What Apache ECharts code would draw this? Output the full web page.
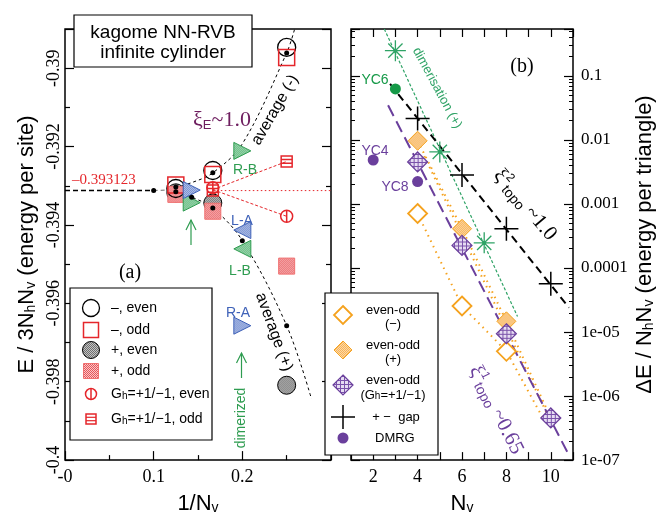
<!DOCTYPE html>
<html><head><meta charset="utf-8">
<script src="https://cdn.jsdelivr.net/npm/echarts@6/dist/echarts.min.js"></script>
<style>html,body{margin:0;padding:0;background:#fff}#c{width:661px;height:520px}</style>
</head><body><div id="c"></div>
<script>
// ================= DATA : panel (a) =================
const xTickLabelsA = ['-0', '0.1', '0.2'];
const yTickLabelsA = ['-0.4', '-0.398', '-0.396', '-0.394', '-0.392', '-0.39'];
const minusEven = [[0.25, -0.38947], [0.1667, -0.39261], [0.125, -0.39307]];
const minusOdd  = [[0.25, -0.38973], [0.1667, -0.39271], [0.125, -0.39298]];
const plusEven  = [[0.25, -0.39809], [0.1667, -0.39344], [0.125, -0.39318]];
const plusOdd   = [[0.25, -0.39505], [0.1667, -0.39365], [0.125, -0.39322]];
const ghEven    = [[0.25, -0.39378], [0.1667, -0.39305]];
const ghOdd     = [[0.25, -0.39238], [0.1667, -0.39312]];
const triGreenRight = [[0.2, -0.39211], [0.1429, -0.39343]];
const triBlueLeft   = [[0.2, -0.39413]];
const triGreenLeft  = [[0.2, -0.39461]];
const triBlueRight  = [[0.2, -0.39657], [0.1429, -0.39311]];
const avgMinusDots = [[0.25, -0.38961], [0.1667, -0.39267], [0.125, -0.39303], [0.1, -0.393123]];
const avgPlusDots  = [[0.25, -0.39657], [0.2, -0.3944], [0.1667, -0.39357], [0.1429, -0.39329], [0.125, -0.39315]];
const avgMinusCurve = [[0.125, -0.39303], [0.1429, -0.39292], [0.1667, -0.39267], [0.2, -0.39193], [0.25, -0.38961], [0.259, -0.389]];
const avgPlusCurve  = [[0.125, -0.39315], [0.1429, -0.39329], [0.1667, -0.39357], [0.2, -0.3944], [0.25, -0.39657], [0.278, -0.39844]];
const extrapLine = [[0, -0.393123], [0.1, -0.393123]];
const greyLink   = [[0.1, -0.393123], [0.125, -0.3931]];
const redFlat    = [[0.1667, -0.393123], [0.3, -0.393123]];
const redUp      = [[0.1667, -0.3931], [0.25, -0.39238]];
const redDown    = [[0.1667, -0.3931], [0.25, -0.39378]];

// ================= DATA : panel (b) =================
const xTickLabelsB = ['2', '4', '6', '8', '10'];
const yTickLabelsB = ['1e-07', '1e-06', '1e-05', '0.0001', '0.001', '0.01', '0.1'];
const nvEven = [4, 6, 8, 10];
const eoPlus  = [0.0097, 4.1e-4, 1.47e-5, 4.55e-7];
const eoMinus = [7.1e-4, 2.55e-5, 5.0e-6];
const eoGh    = [0.00453, 2.25e-4, 9.4e-6, 4.55e-7];
const gapVals = [0.0217, 0.00283, 4.1e-4, 5.7e-5];
const nvDimer = [3, 5, 7];
const dimerVals = [0.248, 0.0065, 2.47e-4];
const dmrgPurple = [[2, 0.00486], [4, 0.00224]];
const dmrgGreen  = [[3, 0.0625]];
const fitBlack  = [[2.76, 0.075], [10.82, 2.4e-5]];
const fitPurple = [[2.67, 0.0347], [10.82, 1.19e-7]];
const fitGreen  = [[2.5, 0.54], [8.5, 1.75e-5]];
const fitOrangeB = [[4.3, 5.6e-3], [9.8, 5.6e-7]];
const fitOrangeC = [[4, 7.1e-4], [6, 2.55e-5], [8, 5.0e-6], [9.65, 4.5e-7]];

// ================= STYLE =================
const SANS = 'Liberation Sans, Arial, sans-serif';
const SERIF = 'Liberation Serif, Times New Roman, serif';
const RED = '#E5262B', GREEN = '#2E9C50', BLUE = '#3F62B8', ORANGE = '#F5A21E', PURPLE = '#6A3F9C', AGREEN = '#2FA366';
const zip = (xs, ys) => xs.map((x, i) => [x, ys[i]]).filter(p => p[1] !== undefined);

// texture fills (scale compensates the symbol's own scaling in scatter series)
function makePattern(size, bg, fg, kind, scale) {
  const cv = document.createElement('canvas');
  cv.width = size; cv.height = size;
  const c = cv.getContext('2d');
  c.fillStyle = bg; c.fillRect(0, 0, size, size);
  c.fillStyle = fg;
  if (kind === 'grid') { c.fillRect(0, 0, size, 1); c.fillRect(0, 0, 1, size); }
  else { c.fillRect(0, 0, 1, 1); c.fillRect(Math.floor(size / 2), Math.floor(size / 2), 1, 1); }
  const s = scale || 1;
  return { image: cv, repeat: 'repeat', scaleX: s, scaleY: s };
}
const P = {
  purple: ['#E6DCF2', '#7A52AA', 'grid', 4],
  grey:   ['#C4C4C4', '#6E6E6E', 'dots', 2],
  pink:   ['#F8C8C8', '#E8555A', 'dots', 2],
  green:  ['#C8EBD2', '#3FA862', 'dots', 2],
  blue:   ['#D3DDF4', '#5876C4', 'dots', 2],
  orange: ['#FDD9A6', '#F7B35A', 'dots', 2]
};
const pat = (k, symSize) => makePattern(P[k][3], P[k][0], P[k][1], P[k][2], symSize ? 2 / symSize : 1);

const nameRich = {
  s: { fontSize: 14, fontFamily: SANS, color: '#000', verticalAlign: 'bottom', lineHeight: 14, padding: [10, 0, 0, 0] }
};
const nameStyle = { fontSize: 22, fontFamily: SANS, color: '#000', rich: nameRich };

const chart = echarts.init(document.getElementById('c'));

const lineS = (data, color, width, type, xi, yi, extra) => Object.assign({
  type: 'line', data, xAxisIndex: xi, yAxisIndex: yi, symbol: 'none', silent: true,
  lineStyle: { color, width, type }, z: 2
}, extra || {});

const triR = 'path://M0,0 L10,5 L0,10 Z';
const triL = 'path://M10,0 L0,5 L10,10 Z';
const circV = 'path://M5,0 A5,5 0 1,1 5,10 A5,5 0 1,1 5,0 Z M5,0 L5,10';
const sqH = 'path://M0,0 L10,0 L10,10 L0,10 Z M0,3.3 L10,3.3 M0,6.7 L10,6.7';
const plusP = 'path://M0,5 L10,5 M5,0 L5,10';
const astP = 'path://M0,5 L10,5 M5,0 L5,10 M1.6,1.6 L8.4,8.4 M1.6,8.4 L8.4,1.6';

const sc = (data, symbol, size, fill, stroke, bw, xi, yi, z) => ({
  type: 'scatter', data, symbol, symbolSize: size, xAxisIndex: xi, yAxisIndex: yi, silent: true,
  itemStyle: { color: fill, borderColor: stroke, borderWidth: bw, opacity: 1 }, z: z || 3
});

const series = [
  // panel a lines
  lineS(extrapLine, '#000', 1.5, [5, 3], 0, 0),
  lineS(greyLink, '#888', 1.2, [4, 3], 0, 0),
  lineS(avgMinusCurve, '#000', 1, [3, 3], 0, 0, { smooth: 0.35 }),
  lineS(avgPlusCurve, '#000', 1, [3, 3], 0, 0, { smooth: 0.35 }),
  lineS(redFlat, RED, 1, [1.5, 2.5], 0, 0),
  lineS(redUp, RED, 1, [3, 2], 0, 0),
  lineS(redDown, RED, 1, [3, 2], 0, 0),
  // panel a markers
  sc(plusEven, 'circle', 18, pat('grey', 18), '#000', 1, 0, 0),
  sc(plusOdd, 'rect', 16, pat('pink', 16), '#F07070', 1, 0, 0),
  sc(minusEven, 'circle', 18, 'rgba(0,0,0,0)', '#000', 1.3, 0, 0),
  sc(minusOdd, 'rect', 16, 'rgba(0,0,0,0)', RED, 1.5, 0, 0),
  sc(triGreenRight, triR, [17, 17], pat('green', 17), GREEN, 1, 0, 0),
  sc(triBlueRight, triR, [17, 17], pat('blue', 17), BLUE, 1, 0, 0),
  sc(triBlueLeft, triL, [17, 17], pat('blue', 17), BLUE, 1, 0, 0),
  sc(triGreenLeft, triL, [17, 17], pat('green', 17), GREEN, 1, 0, 0),
  sc(ghEven, circV, 12, 'rgba(0,0,0,0)', RED, 1.5, 0, 0),
  sc(ghOdd, sqH, 11, 'rgba(0,0,0,0)', RED, 1.5, 0, 0),
  sc(avgMinusDots, 'circle', 5, '#000', '#000', 0, 0, 0, 5),
  sc(avgPlusDots, 'circle', 5, '#000', '#000', 0, 0, 0, 5),
  // panel b lines
  lineS(fitGreen, AGREEN, 1.2, [3, 2], 1, 2),
  lineS(fitBlack, '#000', 2, [8, 5], 1, 2),
  lineS(zip(nvEven, eoPlus), ORANGE, 2, [1.5, 4.5], 1, 2),
  lineS(fitOrangeB, ORANGE, 2, [1.5, 4.5], 1, 2),
  lineS(fitOrangeC, ORANGE, 2, [1.5, 4.5], 1, 2),
  lineS(fitPurple, PURPLE, 2, [12, 6], 1, 2),
  // panel b markers
  sc(zip(nvEven, eoMinus), 'diamond', 19, '#fff', ORANGE, 1.8, 1, 2),
  sc(zip(nvEven, eoPlus), 'diamond', 19, pat('orange', 19), ORANGE, 1, 1, 2),
  sc(zip(nvEven, eoGh), 'diamond', 20, pat('purple', 20), PURPLE, 1.2, 1, 2),
  sc(zip(nvEven, gapVals), plusP, 24, 'rgba(0,0,0,0)', '#000', 1.5, 1, 2),
  sc(zip(nvDimer, dimerVals), astP, 21, 'rgba(0,0,0,0)', AGREEN, 1.3, 1, 2),
  sc(zip(nvDimer, dimerVals), 'circle', 4, AGREEN, AGREEN, 0, 1, 2),
  sc(dmrgPurple, 'circle', 11, PURPLE, PURPLE, 0, 1, 2),
  sc(dmrgGreen, 'circle', 11, '#159947', '#159947', 0, 1, 2)
];

const tickA = { inside: true, length: 9, lineStyle: { color: '#000', width: 1.2 } };
const minorA = { show: true, splitNumber: 2, length: 5, lineStyle: { color: '#000', width: 1.2 } };

const option = {
  animation: false,
  backgroundColor: '#fff',
  grid: [
    { left: 65, top: 29, width: 266, height: 439, show: true, borderColor: '#000', borderWidth: 1.5, backgroundColor: 'rgba(0,0,0,0)' },
    { left: 351, top: 29, width: 222, height: 439, show: true, borderColor: '#000', borderWidth: 1.5, backgroundColor: 'rgba(0,0,0,0)' }
  ],
  xAxis: [
    { gridIndex: 0, type: 'value', min: 0, max: 0.3, interval: 0.1,
      axisLine: { show: false }, splitLine: { show: false }, axisTick: tickA, minorTick: minorA,
      axisLabel: { fontFamily: SERIF, fontSize: 18, color: '#000', margin: 8,
        formatter: v => { const i = Math.round(v * 10); return i < xTickLabelsA.length ? xTickLabelsA[i] : ''; } },
      name: '1/N{s|v}', nameLocation: 'middle', nameGap: 28, nameTextStyle: nameStyle },
    { gridIndex: 1, type: 'value', min: 1, max: 11, interval: 1,
      axisLine: { show: false }, splitLine: { show: false }, axisTick: { inside: true, length: 8, lineStyle: { color: '#000', width: 1.2 } },
      axisLabel: { fontFamily: SERIF, fontSize: 18, color: '#000', margin: 8,
        formatter: v => (v % 2 === 0 && v <= 10) ? xTickLabelsB[v / 2 - 1] : '' },
      name: 'N{s|v}', nameLocation: 'middle', nameGap: 28, nameTextStyle: nameStyle },
    { gridIndex: 1, type: 'value', position: 'top', min: 1, max: 11, interval: 1,
      axisLine: { show: false }, splitLine: { show: false }, axisTick: { inside: true, length: 8, lineStyle: { color: '#000', width: 1.2 } },
      axisLabel: { show: false } }
  ],
  yAxis: [
    { gridIndex: 0, type: 'value', min: -0.4, max: -0.389, interval: 0.002,
      axisLine: { show: false }, splitLine: { show: false }, axisTick: tickA, minorTick: minorA,
      axisLabel: { fontFamily: SERIF, fontSize: 18, color: '#000', rotate: 90, margin: 2,
        formatter: v => { const i = Math.round((v + 0.4) / 0.002); return (i >= 0 && i < yTickLabelsA.length && v < -0.3895) ? yTickLabelsA[i] : ''; } },
      name: 'E / 3N{s|h}N{s|v} (energy per site)', nameLocation: 'middle', nameGap: 27, nameTextStyle: nameStyle },
    { gridIndex: 0, type: 'value', position: 'right', min: -0.4, max: -0.389, interval: 0.002,
      axisLine: { show: false }, splitLine: { show: false }, axisTick: tickA, minorTick: minorA, axisLabel: { show: false } },
    { gridIndex: 1, type: 'log', logBase: 10, min: 1e-7, max: 0.54, position: 'right',
      axisLine: { show: false }, splitLine: { show: false },
      axisTick: { inside: true, length: 9, lineStyle: { color: '#000', width: 1.2 } },
      minorTick: { show: true, splitNumber: 9, length: 4, lineStyle: { color: '#000', width: 1 } },
      axisLabel: { fontFamily: SERIF, fontSize: 17, color: '#000', margin: 8, showMaxLabel: false,
        formatter: v => { const e = Math.round(Math.log10(v)); const i = e + 7; return (Math.abs(Math.log10(v) - e) < 1e-6 && i >= 0 && i < yTickLabelsB.length) ? yTickLabelsB[i] : ''; } },
      name: 'ΔE / N{s|h}N{s|v} (energy per triangle)', nameLocation: 'middle', nameRotate: 90, nameGap: 54, nameTextStyle: nameStyle },
    { gridIndex: 1, type: 'log', logBase: 10, min: 1e-7, max: 0.54, position: 'left',
      axisLine: { show: false }, splitLine: { show: false },
      axisTick: { inside: true, length: 9, lineStyle: { color: '#000', width: 1.2 } },
      minorTick: { show: true, splitNumber: 9, length: 4, lineStyle: { color: '#000', width: 1 } },
      axisLabel: { show: false } }
  ],
  series,
  graphic: []
};

// ---------- annotations (pixel-space text and legends) ----------
const G = [];
const txt = (x, y, text, o) => G.push(Object.assign({ type: 'text', x, y, z: 50, silent: true,
  style: Object.assign({ text, align: 'center', verticalAlign: 'middle', fill: '#000', font: '14px ' + SANS }, o && o.style || {}) },
  o && o.rotation !== undefined ? { rotation: o.rotation } : {}));
const deg = d => d * Math.PI / 180;

// title box
G.push({ type: 'rect', z: 40, silent: true, shape: { x: 74, y: 15, width: 178, height: 52 }, style: { fill: '#fff', stroke: '#000', lineWidth: 1.2 } });
txt(163, 33, 'kagome NN-RVB', { style: { font: '19px ' + SANS } });
txt(163, 53, 'infinite cylinder', { style: { font: '19px ' + SANS } });

// panel a labels
txt(245, 170, 'R-B', { style: { fill: GREEN } });
txt(242, 221, 'L-A', { style: { fill: BLUE } });
txt(240, 271, 'L-B', { style: { fill: GREEN } });
txt(238, 313, 'R-A', { style: { fill: BLUE } });
txt(241, 418, 'dimerized', { rotation: deg(90), style: { fill: GREEN } });
txt(275, 110, 'average (-)', { rotation: deg(60), style: { font: '16px ' + SANS } });
txt(274, 332, 'average (+)', { rotation: deg(-70), style: { font: '16px ' + SANS } });
txt(222, 120, '{a|ξ}{s|E}{a|~1.0}', { style: { rich: {
  a: { fontFamily: SERIF, fontSize: 22, fill: '#6E1E5F', lineHeight: 24 },
  s: { fontFamily: SANS, fontSize: 13, fill: '#6E1E5F', verticalAlign: 'bottom', lineHeight: 13, padding: [11, 0, 0, 0] } } } });
txt(72, 180, '–0.393123', { style: { align: 'left', fill: RED, font: '15px ' + SERIF } });
txt(130, 273, '(a)', { style: { font: '20px ' + SERIF } });
// arrows
const arrow = (x, y0, y1, color) => {
  G.push({ type: 'line', z: 50, silent: true, shape: { x1: x, y1: y0, x2: x, y2: y1 }, style: { stroke: color, lineWidth: 1.2 } });
  G.push({ type: 'polyline', z: 50, silent: true, shape: { points: [[x - 5, y1 + 10], [x, y1], [x + 5, y1 + 10]] }, style: { stroke: color, lineWidth: 1.2, fill: null } });
};
arrow(191, 245, 220, GREEN);
arrow(241.5, 378, 353, GREEN);

// legend a
G.push({ type: 'rect', z: 40, silent: true, shape: { x: 70, y: 288, width: 142, height: 152 }, style: { fill: '#fff', stroke: '#000', lineWidth: 1.2 } });
const lx = 91, ltx = 111;
G.push({ type: 'circle', z: 45, silent: true, shape: { cx: lx, cy: 308, r: 8.5 }, style: { fill: 'none', stroke: '#000', lineWidth: 1.3 } });
G.push({ type: 'rect', z: 45, silent: true, shape: { x: lx - 7.5, y: 330 - 7.5, width: 15, height: 15 }, style: { fill: 'none', stroke: RED, lineWidth: 1.5 } });
G.push({ type: 'circle', z: 45, silent: true, shape: { cx: lx, cy: 350, r: 8.5 }, style: { fill: pat('grey'), stroke: '#000', lineWidth: 1 } });
G.push({ type: 'rect', z: 45, silent: true, shape: { x: lx - 7.5, y: 371 - 7.5, width: 15, height: 15 }, style: { fill: pat('pink'), stroke: '#F07070', lineWidth: 1 } });
G.push({ type: 'circle', z: 45, silent: true, shape: { cx: lx, cy: 394, r: 5.5 }, style: { fill: 'none', stroke: RED, lineWidth: 1.5 } });
G.push({ type: 'line', z: 45, silent: true, shape: { x1: lx, y1: 388.5, x2: lx, y2: 399.5 }, style: { stroke: RED, lineWidth: 1.5 } });
G.push({ type: 'rect', z: 45, silent: true, shape: { x: lx - 5, y: 414, width: 10, height: 10 }, style: { fill: 'none', stroke: RED, lineWidth: 1.5 } });
G.push({ type: 'line', z: 45, silent: true, shape: { x1: lx - 5, y1: 417.3, x2: lx + 5, y2: 417.3 }, style: { stroke: RED, lineWidth: 1.2 } });
G.push({ type: 'line', z: 45, silent: true, shape: { x1: lx - 5, y1: 420.7, x2: lx + 5, y2: 420.7 }, style: { stroke: RED, lineWidth: 1.2 } });
const lRich = { s: { fontFamily: SANS, fontSize: 10, verticalAlign: 'bottom', lineHeight: 10, padding: [8, 0, 0, 0] } };
[['–, even', 308], ['–, odd', 330], ['+, even', 350], ['+, odd', 371], ['G{s|h}=+1/−1, even', 394], ['G{s|h}=+1/−1, odd', 419]].forEach(([t, y]) =>
  txt(ltx, y, t, { style: { align: 'left', rich: lRich } }));

// panel b labels
txt(522, 67, '(b)', { style: { font: '20px ' + SERIF } });
txt(375, 80, 'YC6', { style: { fill: '#159947' } });
txt(375, 151, 'YC4', { style: { fill: PURPLE } });
txt(395, 187, 'YC8', { style: { fill: PURPLE } });
txt(437, 88, 'dimerisation (+)', { rotation: deg(-61.5), style: { fill: AGREEN, font: '13px ' + SANS } });
const xiRich = (c) => ({
  a: { fontFamily: SERIF, fontSize: 21, fill: c, lineHeight: 24 },
  p: { fontFamily: SANS, fontSize: 12, fill: c, verticalAlign: 'top', lineHeight: 12 },
  s: { fontFamily: SANS, fontSize: 14, fill: c, verticalAlign: 'bottom', lineHeight: 14, padding: [10, 0, 0, 0] }
});
txt(525, 205, '{a|ξ}{p|2}{s|topo}{a| ~1.0}', { rotation: deg(-50), style: { rich: xiRich('#000') } });
txt(496, 410, '{a|ξ}{p|1}{s|topo}{a| ~0.65}', { rotation: deg(-63), style: { rich: xiRich(PURPLE) } });

// legend b
G.push({ type: 'rect', z: 40, silent: true, shape: { x: 325, y: 293, width: 113, height: 162 }, style: { fill: '#fff', stroke: '#000', lineWidth: 1.2 } });
const bx = 343;
const diamond = (cy, fill, stroke, lw, r) => G.push({ type: 'polygon', z: 45, silent: true,
  shape: { points: [[bx, cy - r], [bx + r, cy], [bx, cy + r], [bx - r, cy]] }, style: { fill, stroke, lineWidth: lw } });
diamond(315, '#fff', ORANGE, 1.8, 9);
diamond(350, pat('orange'), ORANGE, 1, 9);
diamond(385, pat('purple'), PURPLE, 1.2, 10);
G.push({ type: 'line', z: 45, silent: true, shape: { x1: bx - 12, y1: 417, x2: bx + 12, y2: 417 }, style: { stroke: '#000', lineWidth: 1.5 } });
G.push({ type: 'line', z: 45, silent: true, shape: { x1: bx, y1: 405, x2: bx, y2: 429 }, style: { stroke: '#000', lineWidth: 1.5 } });
G.push({ type: 'circle', z: 45, silent: true, shape: { cx: bx, cy: 438, r: 5.5 }, style: { fill: PURPLE } });
const bRich = { s: { fontFamily: SANS, fontSize: 10, verticalAlign: 'bottom', lineHeight: 10, padding: [8, 0, 0, 0] } };
txt(393, 310, 'even-odd', { style: { font: '13px ' + SANS } });
txt(393, 324, '(−)', { style: { font: '13px ' + SANS } });
txt(393, 345, 'even-odd', { style: { font: '13px ' + SANS } });
txt(393, 359, '(+)', { style: { font: '13px ' + SANS } });
txt(393, 380, 'even-odd', { style: { font: '13px ' + SANS } });
txt(393, 395, '(G{s|h}=+1/−1)', { style: { font: '13px ' + SANS, rich: bRich } });
txt(396, 417, '+ −  gap', { style: { font: '13px ' + SANS } });
txt(375, 438, 'DMRG', { style: { align: 'left', font: '13px ' + SANS } });

option.graphic = G;
chart.setOption(option);
</script></body></html>
